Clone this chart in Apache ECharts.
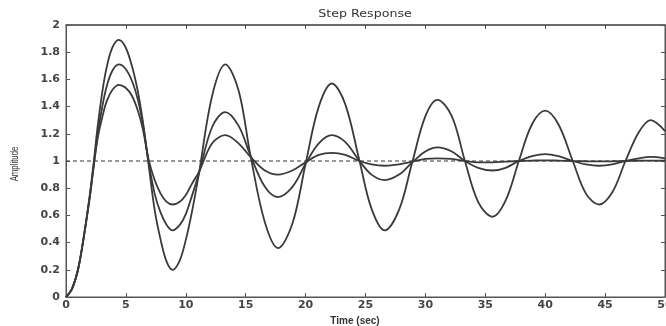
<!DOCTYPE html>
<html>
<head>
<meta charset="utf-8">
<script src="https://cdn.jsdelivr.net/npm/echarts@6/dist/echarts.min.js"></script>
<style>
html,body{margin:0;padding:0;background:#fff;}
#chart{width:666px;height:326px;}
</style>
</head>
<body>
<div id="chart"></div>
<script>
// Time samples (sec)
const time = [0,0.5,1,1.5,2,2.3,2.65,3.05,3.4,3.85,
  4.4,4.95,5.5,6,6.4,6.9,7.4,7.9,8.4,8.9,
  9.5,10,10.5,11.1,12.2,13.3,14.4,15.4,16.6,17.7,
  18.9,20,21.1,22.2,23.3,24.5,25.5,26.6,27.8,28.9,
  30,31,32.2,33.3,34.4,35.6,36.7,37.8,38.9,40,
  41.1,42.3,43.4,44.5,45.6,46.7,47.8,48.8,50];
// Least damped response
const respA = [0,0.06,0.2,0.45,0.76,0.98,1.26,1.52,1.69,1.83,
  1.89,1.84,1.7,1.51,1.3,0.97,0.64,0.42,0.26,0.2,
  0.27,0.42,0.62,0.91,1.48,1.71,1.52,1.04,0.55,0.36,
  0.54,0.98,1.4,1.57,1.42,1.0,0.65,0.49,0.64,0.99,
  1.33,1.45,1.33,1.0,0.7,0.59,0.71,1.0,1.27,1.37,
  1.27,1.0,0.76,0.68,0.77,1.0,1.21,1.3,1.22];
// Medium damped response
const respB = [0,0.06,0.2,0.45,0.75,0.96,1.2,1.41,1.55,1.66,
  1.71,1.68,1.59,1.45,1.28,0.99,0.76,0.62,0.53,0.49,
  0.53,0.61,0.74,0.91,1.25,1.36,1.26,1.04,0.81,0.735,
  0.81,0.98,1.13,1.19,1.14,1.0,0.9,0.86,0.9,0.99,
  1.07,1.1,1.07,1.0,0.95,0.93,0.95,1.0,1.035,1.05,
  1.035,1.0,0.975,0.965,0.975,1.0,1.02,1.03,1.02];
// Most damped response
const respC = [0,0.06,0.2,0.45,0.74,0.95,1.17,1.33,1.44,1.52,
  1.56,1.54,1.48,1.37,1.24,1.01,0.86,0.76,0.7,0.68,
  0.7,0.75,0.83,0.92,1.13,1.19,1.13,1.03,0.93,0.9,
  0.93,0.99,1.045,1.06,1.045,1.0,0.975,0.965,0.975,0.995,
  1.015,1.02,1.015,1.0,0.99,0.99,0.995,1.0,1.003,1.005,
  1.003,1.0,0.998,0.997,0.998,1.0,1.002,1.003,1.002];
// Steady-state reference line
const refX = [0, 50];
const refY = [1, 1];

const xMin = 0, xMax = 50, xStep = 5;
const yMin = 0, yMax = 2, yStep = 0.2;

const FONT = "'Liberation Sans', Arial, sans-serif";
const WIDE = "'DejaVu Sans', Verdana, sans-serif";
const pair = (xs, ys) => xs.map((x, i) => [x, ys[i]]);

const chart = echarts.init(document.getElementById('chart'), null, {renderer: 'canvas'});

const axisLineStyle = (w) => ({show: true, onZero: false, lineStyle: {color: '#555', width: w || 1}});
const tickStyle = () => ({show: true, inside: true, length: 4, lineStyle: {color: '#555', width: 1}});
const labelStyle = (m) => ({show: true, margin: m, color: '#444', fontSize: 11, fontWeight: 'bold', fontFamily: WIDE});
const ghostLabel = () => ({show: true, color: 'rgba(0,0,0,0)', fontSize: 1, margin: 0});
const curveStyle = () => ({color: '#3a3a3a', width: 1.8});

chart.setOption({
  animation: false,
  backgroundColor: '#fff',
  grid: {left: 66, right: 1, top: 25, bottom: 29, containLabel: false, outerBoundsMode: 'none',
         show: true, borderColor: '#555', borderWidth: 1, backgroundColor: 'rgba(0,0,0,0)'},
  xAxis: [
    {type: 'value', position: 'bottom', min: xMin, max: xMax, interval: xStep,
     axisLine: axisLineStyle(1), axisTick: tickStyle(), splitLine: {show: false},
     axisLabel: labelStyle(3)},
    {type: 'value', position: 'top', min: xMin, max: xMax, interval: xStep,
     axisLine: axisLineStyle(1.5), axisTick: tickStyle(), splitLine: {show: false},
     axisLabel: ghostLabel()}
  ],
  yAxis: [
    {type: 'value', position: 'left', min: yMin, max: yMax, interval: yStep,
     axisLine: axisLineStyle(1), axisTick: tickStyle(), splitLine: {show: false},
     axisLabel: labelStyle(6)},
    {type: 'value', position: 'right', min: yMin, max: yMax, interval: yStep,
     axisLine: axisLineStyle(1), axisTick: tickStyle(), splitLine: {show: false},
     axisLabel: ghostLabel()}
  ],
  graphic: [
    {type: 'text', x: 365, y: 14, scaleX: 1.15,
     style: {text: 'Step Response', fill: '#333', font: "11px " + WIDE, textAlign: 'center', textVerticalAlign: 'middle'}},
    {type: 'text', x: 355, y: 321,
     style: {text: 'Time (sec)', fill: '#333', font: "bold 10px " + FONT, textAlign: 'center', textVerticalAlign: 'middle'}},
    {type: 'text', x: 15, y: 164, rotation: Math.PI / 2, scaleX: 0.78,
     style: {text: 'Amplitude', fill: '#333', font: "10px " + FONT, textAlign: 'center', textVerticalAlign: 'middle'}}
  ],
  series: [
    {type: 'line', name: 'ref', xAxisIndex: 1, yAxisIndex: 1, data: pair(refX, refY), showSymbol: false, silent: true,
     lineStyle: {color: '#333', width: 1, type: [4, 3]}, z: 1},
    {type: 'line', name: 'A', data: pair(time, respA), showSymbol: false, smooth: 0.35,
     lineStyle: curveStyle(), z: 2},
    {type: 'line', name: 'B', data: pair(time, respB), showSymbol: false, smooth: 0.35,
     lineStyle: curveStyle(), z: 2},
    {type: 'line', name: 'C', data: pair(time, respC), showSymbol: false, smooth: 0.35,
     lineStyle: curveStyle(), z: 2}
  ]
});
</script>
</body>
</html>
